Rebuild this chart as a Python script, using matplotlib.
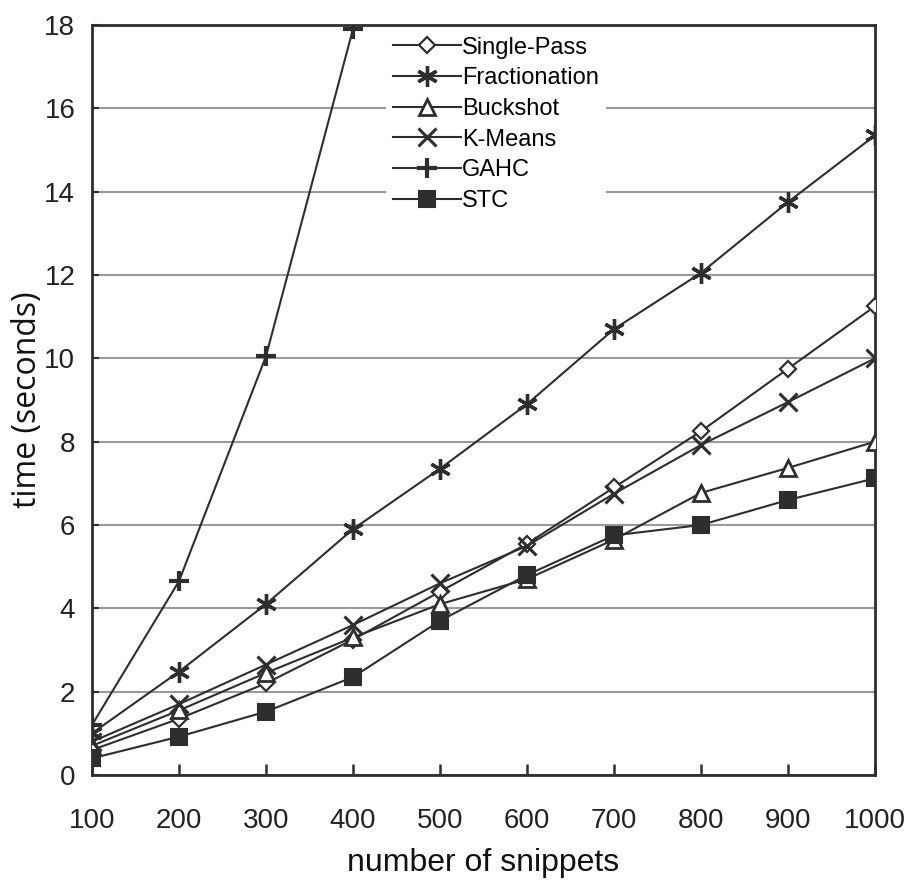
import numpy as np
import matplotlib
matplotlib.use('Agg')
import matplotlib.pyplot as plt


snippets = [100, 200, 300, 400, 500, 600, 700, 800, 900, 1000]

single_pass = [0.6, 1.35, 2.2, 3.25, 4.4, 5.55, 6.9, 8.25, 9.75, 11.25]
fractionation = [1.0, 2.48, 4.1, 5.9, 7.35, 8.9, 10.7, 12.05, 13.75, 15.35]
buckshot = [0.7, 1.55, 2.45, 3.3, 4.1, 4.7, 5.65, 6.77, 7.37, 8.0]
k_means = [0.8, 1.7, 2.65, 3.6, 4.6, 5.5, 6.75, 7.92, 8.95, 10.0]
gahc = [1.2, 4.65, 10.05, 17.9]
stc = [0.4, 0.92, 1.52, 2.35, 3.7, 4.8, 5.75, 6.0, 6.6, 7.12]

y_ticks = [0, 2, 4, 6, 8, 10, 12, 14, 16, 18]

narrow = ['Liberation Sans Narrow', 'Liberation Sans', 'DejaVu Sans']
ink = '#2e2e2e'

#==============================================================================
fig = plt.figure(figsize=(9.06, 8.85), dpi=100)
ax = fig.add_axes([0.1015, 0.1243, 0.8643, 0.8475])

series = [
    ('Single-Pass', snippets, single_pass, dict(marker='D', ms=8, mfc='white', mew=1.6)),
    ('Fractionation', snippets, fractionation, dict(marker=(6, 2, 0), ms=15, mew=2.4)),
    ('Buckshot', snippets, buckshot, dict(marker='^', ms=11, mfc='white', mew=2.0)),
    ('K-Means', snippets, k_means, dict(marker='x', ms=13, mew=2.2)),
    ('GAHC', snippets[:len(gahc)], gahc, dict(marker='+', ms=15, mew=3.0)),
    ('STC', snippets, stc, dict(marker='s', ms=11, mfc=ink, mew=1.5)),
]
for label, xs, ys, style in series:
    ax.plot(xs, ys, color=ink, lw=1.5, mec=ink, label=label, zorder=3, **style)

ax.set_xlim(100, 1000)
ax.set_ylim(0, 18)
ax.set_xticks(snippets)
ax.set_yticks(y_ticks)
ax.yaxis.grid(True, color='#9a9a9a', lw=1.5)
ax.set_axisbelow(True)

for sp in ax.spines.values():
    sp.set_color(ink)
    sp.set_linewidth(2.0)

ax.tick_params(axis='x', direction='in', length=8, width=1.8, color=ink, pad=24)
ax.tick_params(axis='y', direction='in', length=5, width=1.5, color=ink, pad=12)
for t in ax.get_xticklabels() + ax.get_yticklabels():
    t.set_family(narrow)
    t.set_fontsize(20)
    t.set_color('#222222')

ax.set_xlabel('number of snippets', family=narrow, fontsize=23, color='#111111', labelpad=10)
ax.set_ylabel('time (seconds)', family=['Open Sans', 'DejaVu Sans'], fontsize=23,
              color='#111111', labelpad=0)

leg = ax.legend(loc='upper left', bbox_to_anchor=(0.375, 0.994), frameon=True,
                prop={'family': narrow, 'size': 17}, handlelength=2.9,
                handletextpad=0.05, labelspacing=0.37, borderaxespad=0,
                borderpad=0.3, fancybox=False)
leg.get_frame().set_edgecolor('none')
leg.get_frame().set_facecolor('white')
leg.get_frame().set_alpha(1)

fig.savefig('out.png', dpi=100)
